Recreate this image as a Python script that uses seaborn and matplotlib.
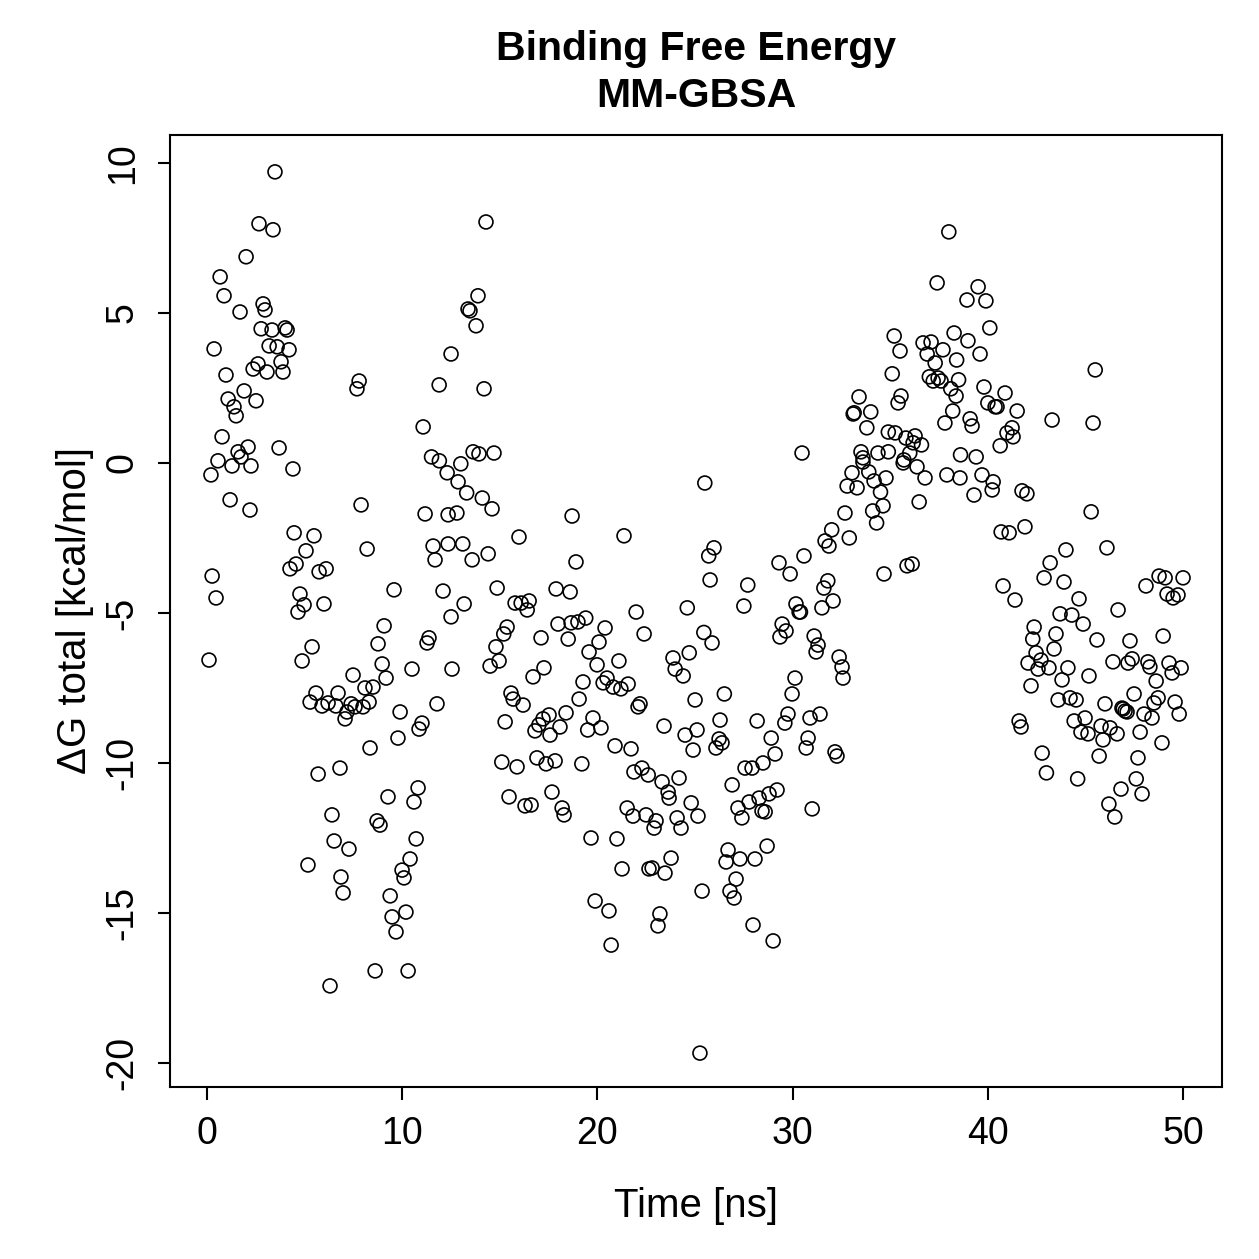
import seaborn as sns
import pandas as pd
import matplotlib.pyplot as plt

# values (time in ns, dG in kcal/mol)
time_ns = [
    0.1, 0.2, 0.26, 0.36, 0.46, 0.56, 0.67, 0.77, 0.87, 0.97, 1.08, 1.18, 1.28, 1.38, 1.49, 1.59, 1.69, 1.74, 1.9, 2.0,
    2.1, 2.2, 2.25, 2.36, 2.51, 2.61, 2.66, 2.77, 2.87, 2.97, 3.07, 3.18, 3.33, 3.38, 3.48, 3.59, 3.69, 3.79, 3.89, 4.0,
    4.1, 4.2, 4.4, 4.25, 4.46, 4.56, 4.66, 4.76, 4.87, 4.97, 5.07, 5.17, 5.28, 5.38, 5.48, 5.58, 5.69, 5.74, 5.89, 5.99,
    6.1, 6.2, 6.3, 6.4, 6.51, 6.6, 6.71, 6.81, 6.86, 6.97, 7.07, 7.17, 7.27, 7.38, 7.48, 7.58, 7.68, 7.79, 7.89, 7.99,
    8.09, 8.2, 8.3, 8.35, 8.5, 8.61, 8.71, 8.76, 8.86, 8.97, 9.07, 9.17, 9.27, 9.38, 9.48, 9.58, 9.68, 9.78, 9.89, 9.99,
    10.09, 10.19, 10.3, 10.4, 10.5, 10.6, 10.71, 10.81, 10.86, 11.01, 11.07, 11.17, 11.27, 11.37, 11.5, 11.58, 11.68, 11.78, 11.89, 11.9,
    12.09, 12.3, 12.35, 12.35, 12.5, 12.5, 12.55, 12.8, 12.86, 13.0, 13.1, 13.17, 13.3, 13.37, 13.47, 13.58, 13.63, 13.78, 13.88, 13.93,
    14.1, 14.19, 14.29, 14.4, 14.5, 14.6, 14.7, 14.8, 14.86, 14.96, 15.1, 15.2, 15.27, 15.37, 15.47, 15.57, 15.68, 15.78, 15.88, 15.98,
    16.09, 16.19, 16.29, 16.4, 16.5, 16.6, 16.7, 16.8, 16.9, 17.0, 17.11, 17.21, 17.26, 17.37, 17.52, 17.57, 17.67, 17.83, 17.88, 17.98,
    18.08, 18.19, 18.29, 18.39, 18.5, 18.6, 18.65, 18.7, 18.9, 19.0, 19.06, 19.2, 19.26, 19.4, 19.5, 19.57, 19.67, 19.77, 19.88, 19.98,
    20.08, 20.18, 20.29, 20.39, 20.49, 20.59, 20.7, 20.8, 20.9, 21.0, 21.1, 21.2, 21.26, 21.36, 21.52, 21.57, 21.72, 21.82, 21.87, 21.98,
    22.08, 22.18, 22.28, 22.39, 22.49, 22.6, 22.64, 22.8, 22.9, 23.0, 23.1, 23.2, 23.31, 23.41, 23.46, 23.62, 23.67, 23.77, 23.87, 23.98,
    24.08, 24.18, 24.28, 24.39, 24.49, 24.6, 24.7, 24.8, 24.9, 25.0, 25.1, 25.15, 25.25, 25.36, 25.45, 25.5, 25.7, 25.77, 25.87, 25.97,
    26.07, 26.23, 26.28, 26.38, 26.5, 26.59, 26.69, 26.79, 26.9, 27.0, 27.1, 27.2, 27.3, 27.4, 27.5, 27.56, 27.7, 27.77, 27.92, 27.97,
    28.07, 28.18, 28.28, 28.43, 28.48, 28.59, 28.69, 28.79, 28.9, 29.0, 29.1, 29.2, 29.3, 29.35, 29.46, 29.6, 29.66, 29.76, 29.87, 29.97,
    30.12, 30.17, 30.33, 30.4, 30.48, 30.58, 30.69, 30.79, 30.89, 31.0, 31.1, 31.2, 31.3, 31.4, 31.5, 31.6, 31.66, 31.8, 31.86, 32.0,
    32.07, 32.17, 32.27, 32.38, 32.53, 32.58, 32.68, 32.79, 32.9, 33.04, 33.1, 33.15, 33.3, 33.4, 33.5, 33.6, 33.6, 33.8, 33.9, 34.0,
    34.1, 34.17, 34.3, 34.37, 34.5, 34.63, 34.68, 34.78, 34.9, 34.9, 35.1, 35.2, 35.25, 35.4, 35.5, 35.55, 35.66, 35.7, 35.8, 35.86,
    36.0, 36.12, 36.17, 36.27, 36.37, 36.48, 36.6, 36.68, 36.78, 36.89, 37.0, 37.09, 37.2, 37.3, 37.4, 37.45, 37.6, 37.7, 37.8, 37.9,
    38.0, 38.1, 38.2, 38.27, 38.37, 38.4, 38.5, 38.57, 38.6, 38.93, 38.98, 39.09, 39.19, 39.29, 39.4, 39.5, 39.6, 39.7, 39.8, 39.9,
    40.0, 40.1, 40.22, 40.27, 40.37, 40.47, 40.63, 40.68, 40.78, 40.88, 40.98, 41.09, 41.24, 41.29, 41.39, 41.5, 41.6, 41.7, 41.75, 41.9,
    42.0, 42.06, 42.21, 42.3, 42.37, 42.47, 42.57, 42.72, 42.78, 42.88, 43.0, 43.13, 43.19, 43.29, 43.39, 43.49, 43.6, 43.7, 43.8, 43.9,
    44.0, 44.1, 44.21, 44.3, 44.42, 44.52, 44.6, 44.67, 44.77, 44.88, 44.98, 45.13, 45.18, 45.29, 45.39, 45.5, 45.59, 45.7, 45.8, 45.9,
    46.0, 46.1, 46.2, 46.26, 46.41, 46.5, 46.62, 46.67, 46.82, 46.87, 46.93, 47.03, 47.13, 47.18, 47.28, 47.39, 47.49, 47.6, 47.69, 47.8,
    47.9, 48.0, 48.1, 48.2, 48.3, 48.41, 48.51, 48.62, 48.72, 48.77, 48.92, 48.98, 49.08, 49.18, 49.28, 49.44, 49.49, 49.59, 49.74, 49.8,
    49.9, 50.0,
]
delta_g = [
    -6.57, -0.4, -3.77, 3.8, -4.5, 0.07, 6.2, 0.87, 5.57, 2.93, 2.13, -1.23, -0.1, 1.87, 1.57, 0.37, 5.03, 0.2, 2.4, 6.87,
    0.53, -1.57, -0.1, 3.13, 2.07, 3.3, 7.97, 4.47, 5.3, 5.1, 3.03, 3.9, 4.43, 7.77, 9.7, 3.87, 0.5, 3.37, 3.03, 4.5,
    4.43, 3.77, -0.2, -3.53, -2.33, -3.37, -4.97, -4.37, -6.6, -4.73, -2.93, -13.4, -7.97, -6.13, -2.43, -7.67, -10.37, -3.63, -8.1, -4.7,
    -3.53, -8.0, -17.43, -11.73, -12.6, -8.1, -7.67, -10.17, -13.8, -14.33, -8.53, -8.3, -12.87, -8.03, -7.07, -8.13, 2.47, 2.73, -1.4, -8.13,
    -7.5, -2.87, -7.97, -9.5, -7.47, -16.93, -11.93, -6.03, -12.07, -6.7, -5.43, -7.17, -11.13, -14.43, -15.13, -4.23, -15.63, -9.17, -8.3, -13.57,
    -13.83, -14.97, -16.93, -13.2, -6.87, -11.3, -12.53, -10.83, -8.87, -8.67, 1.2, -1.7, -6.0, -5.83, 0.2, -2.77, -3.23, -8.03, 2.6, 0.07,
    -4.27, -0.33, -1.73, -2.7, -5.13, 3.63, -6.87, -1.67, -0.63, -0.03, -2.7, -4.7, -1.0, 5.13, 5.07, -3.23, 0.37, 4.57, 5.57, 0.3,
    -1.17, 2.47, 8.03, -3.03, -6.77, -1.53, 0.33, -6.13, -4.17, -6.6, -9.97, -5.7, -8.63, -5.47, -11.13, -7.67, -7.87, -4.67, -10.13, -2.47,
    -4.67, -8.07, -11.43, -4.9, -4.6, -11.4, -7.13, -8.93, -9.83, -8.73, -5.83, -8.53, -6.83, -10.03, -8.4, -9.07, -10.97, -9.93, -4.2, -5.37,
    -8.8, -11.5, -11.73, -8.33, -5.87, -4.3, -5.33, -1.77, -3.3, -5.3, -7.87, -10.03, -7.3, -5.17, -8.9, -6.3, -12.5, -8.5, -14.6, -6.73,
    -5.97, -8.83, -7.33, -5.5, -7.17, -14.93, -16.07, -7.47, -9.43, -12.53, -6.6, -7.53, -13.53, -2.43, -11.5, -7.37, -9.53, -11.77, -10.3, -4.97,
    -8.13, -8.03, -10.17, -5.7, -11.73, -10.4, -13.53, -13.5, -12.17, -11.93, -15.43, -15.03, -10.63, -8.77, -13.67, -10.97, -11.17, -13.17, -6.5, -6.87,
    -11.83, -10.5, -12.17, -7.1, -9.07, -4.83, -6.33, -11.33, -9.57, -7.9, -8.9, -11.77, -19.67, -14.27, -5.65, -0.67, -3.1, -3.9, -6.0, -2.83,
    -9.5, -9.2, -8.57, -9.33, -7.7, -13.3, -12.9, -14.27, -10.73, -14.5, -13.87, -11.5, -13.2, -11.83, -4.77, -10.17, -4.07, -11.3, -10.17, -15.4,
    -13.2, -8.6, -11.17, -11.6, -10.0, -11.63, -12.77, -11.03, -9.17, -15.93, -9.7, -10.9, -3.33, -5.8, -5.37, -8.67, -5.6, -8.37, -3.7, -7.7,
    -7.17, -4.7, -4.97, -4.97, 0.33, -3.1, -9.5, -9.17, -8.5, -11.53, -5.77, -6.3, -6.07, -8.37, -4.83, -4.17, -2.6, -3.93, -2.77, -2.23,
    -4.6, -9.63, -9.77, -6.47, -6.8, -7.17, -1.67, -0.77, -2.5, -0.33, 1.63, 1.67, -0.83, 2.2, 0.37, 0.17, 0.03, 1.17, -0.3, 1.7,
    -1.6, -0.6, -2.0, 0.33, -0.97, -1.43, -3.7, -0.5, 1.03, 0.37, 2.97, 4.23, 1.0, 2.0, 3.73, 2.23, 0.0, 0.1, 0.83, -3.43,
    0.33, -3.37, 0.67, 0.9, -0.13, -1.3, 0.6, 4.0, -0.5, 3.63, 2.87, 4.03, 2.73, 3.33, 6.0, 2.83, 2.73, 3.77, 1.33, -0.4,
    7.7, 2.47, 1.73, 4.33, 2.23, 3.43, 2.77, -0.5, 0.27, 5.43, 4.07, 1.47, 1.23, -1.07, 0.2, 5.87, 3.63, -0.4, 2.53, 5.4,
    2.0, 4.5, -0.9, -0.63, 1.87, 1.87, 0.57, -2.3, -4.1, 2.33, 1.0, -2.33, 1.17, 0.87, -4.57, 1.73, -8.6, -8.8, -0.93, -2.13,
    -1.03, -6.67, -7.43, -5.87, -5.47, -6.33, -6.87, -6.57, -9.67, -3.83, -10.33, -6.83, -3.33, 1.43, -6.2, -5.7, -7.9, -5.03, -7.23, -3.97,
    -2.9, -6.83, -7.83, -5.07, -8.6, -7.9, -10.53, -4.53, -8.97, -5.37, -8.5, -9.03, -7.1, -1.63, 1.33, 3.1, -5.9, -9.77, -8.77, -9.23,
    -8.03, -2.83, -11.37, -8.83, -6.63, -11.8, -9.03, -4.9, -10.87, -8.17, -8.2, -8.27, -8.3, -6.67, -5.93, -6.53, -7.7, -10.53, -9.83, -8.97,
    -11.03, -8.37, -4.1, -6.63, -6.8, -8.5, -8.0, -7.27, -7.83, -3.77, -9.33, -5.77, -3.83, -4.37, -6.67, -7.0, -4.5, -7.97, -4.4, -8.37,
    -6.83, -3.83,
]

df = pd.DataFrame({"Time": time_ns, "dG": delta_g})

sns.set_style("white")
plt.rcParams["font.family"] = ["Liberation Sans", "DejaVu Sans"]
plt.rcParams["axes.unicode_minus"] = False
plt.rcParams["text.color"] = "black"
plt.rcParams["axes.labelcolor"] = "black"
plt.rcParams["xtick.color"] = "black"
plt.rcParams["ytick.color"] = "black"

fig = plt.figure(figsize=(12.59, 12.59), dpi=100)
ax = fig.add_axes([0.135, 0.1366, 0.8357, 0.7562])

sns.scatterplot(data=df, x="Time", y="dG", ax=ax, marker="o", s=100,
                facecolor="none", edgecolor="black", linewidth=1.2)

ax.set_xlim(-1.9, 52.0)
ax.set_ylim(-20.8, 10.93)
ax.set_xticks([0, 10, 20, 30, 40, 50])
ax.set_yticks([-20, -15, -10, -5, 0, 5, 10])

for s in ax.spines.values():
    s.set_color("black")
    s.set_linewidth(1.5)

ax.tick_params(axis="both", direction="out", length=9, width=1.5, color="black",
               labelsize=27, labelcolor="black", bottom=True, left=True)
ax.tick_params(axis="x", pad=12)
ax.tick_params(axis="y", pad=12)
plt.setp(ax.get_yticklabels(), rotation=90, va="center")

ax.set_xlabel("Time [ns]", fontsize=29, labelpad=25)
ax.set_ylabel("ΔG total [kcal/mol]", fontsize=29, labelpad=8)
ax.set_title("Binding Free Energy\nMM-GBSA", fontsize=29.5, fontweight="bold",
             pad=20, color="black", linespacing=1.3)

fig.savefig("out.png", dpi=100)
